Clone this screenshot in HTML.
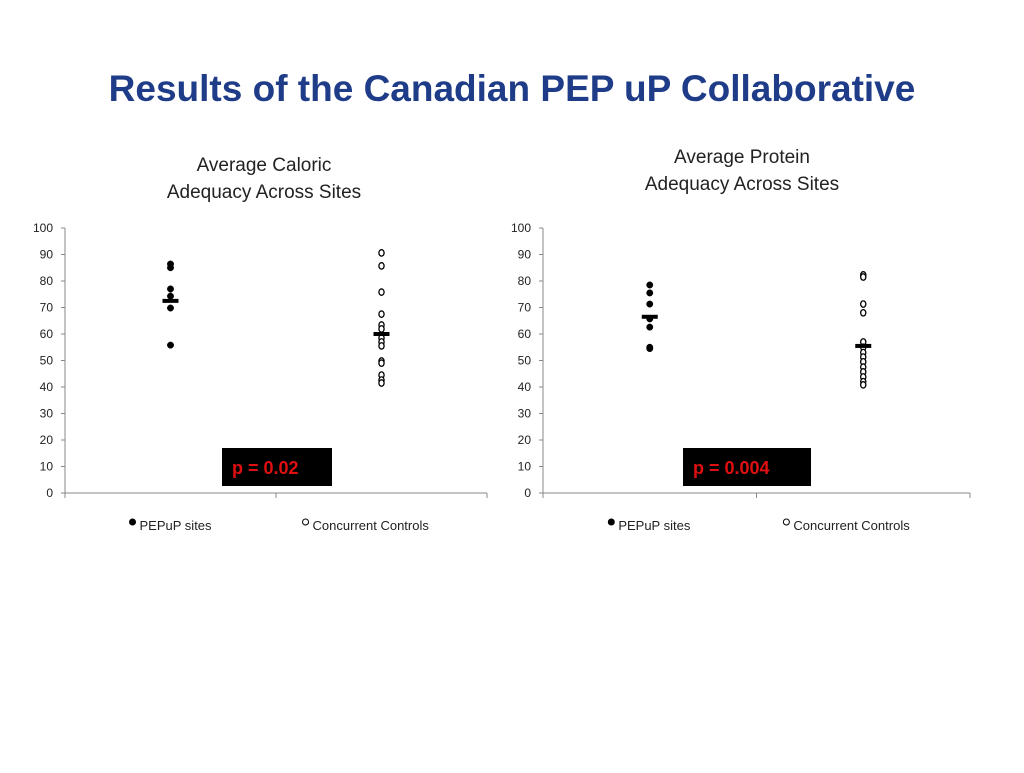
<!DOCTYPE html>
<html><head><meta charset="utf-8"><style>
body{margin:0;width:1024px;height:768px;background:#fff;font-family:"Liberation Sans",sans-serif;overflow:hidden}
</style></head><body>
<svg width="1024" height="768" font-family="Liberation Sans, sans-serif">
<text x="512" y="101" text-anchor="middle" font-size="37" font-weight="bold" fill="#1F3C88">Results of the Canadian PEP uP Collaborative</text>
<g id="c1"></g>
<g id="c2"></g>
</svg>
<script>
const categories=["PEPuP sites","Concurrent Controls"];
const yTicks=[0,10,20,30,40,50,60,70,80,90,100];
const calPep=[86.4,85,77,74.3,69.8,55.8];
const calCtl=[90.6,85.7,75.8,67.5,63.4,61.9,58.5,57,55.5,49.8,49,44.5,42.6,41.5];
const calMeans=[72.5,60];
const proPep=[78.5,75.5,71.3,65.7,62.6,55,54.5];
const proCtl=[82.3,81.5,71.3,68,57,55,53,51.3,49.5,47.5,45.7,43.8,42,40.8];
const proMeans=[66.5,55.5];
const titles=[["Average Caloric","Adequacy Across Sites"],["Average Protein","Adequacy Across Sites"]];
const pvals=["p = 0.02","p = 0.004"];
const NS="http://www.w3.org/2000/svg";
function mk(p,t,a,txt){const e=document.createElementNS(NS,t);for(const k in a)e.setAttribute(k,a[k]);if(txt!==undefined)e.textContent=txt;p.appendChild(e);return e;}
function draw(g,x0,x1,series,means,title,titleX,titleY,pv,boxX,boxW){
  const y0=493,y100=228;
  const ys=v=>y0-(v/100)*(y0-y100);
  const xs=i=>x0+(x1-x0)*(i+0.5)/categories.length;
  title.forEach((l,i)=>{const t=mk(g,"text",{x:titleX,y:titleY+i*27,"text-anchor":"middle","font-size":"19",fill:"#222"},l);
    
    });
  const ax=mk(g,"line",{x1:x0,y1:y100,x2:x0,y2:y0,stroke:"#888"});
  
  
  const bx=mk(g,"line",{x1:x0,y1:y0,x2:x1,y2:y0,stroke:"#888"});
  
  
  yTicks.forEach(v=>{mk(g,"line",{x1:x0-4,y1:ys(v),x2:x0,y2:ys(v),stroke:"#888"});
    const t=mk(g,"text",{x:x0-12,y:ys(v)+4,"text-anchor":"end","font-size":"12",fill:"#222"},v);
    
    });
  [0,1,2].forEach(i=>mk(g,"line",{x1:x0+(x1-x0)*i/2,y1:y0,x2:x0+(x1-x0)*i/2,y2:y0+5,stroke:"#888"}));
  series.forEach((s,ci)=>{s.forEach(v=>{const c=mk(g,"ellipse",{cx:xs(ci),cy:ys(v),rx:ci?2.6:3.2,ry:3.2,fill:ci?"#fff":"#000",stroke:"#000","stroke-width":ci?1.3:0.5});
    
    });});
  means.forEach((m,ci)=>{const r=mk(g,"rect",{x:xs(ci)-8,y:ys(m)-2,width:16,height:4,fill:"#000"});
    
    });
  const b=mk(g,"rect",{x:boxX,y:448,width:boxW,height:38,fill:"#000"});
  
  
  const pt=mk(g,"text",{x:boxX+10,y:474,"font-size":"18","font-weight":"bold",fill:"#e01010"},pv);
  
  
  categories.forEach((c,ci)=>{const lx=ci?x0+(x1-x0)*0.57:x0+(x1-x0)*0.16;
    mk(g,"circle",{cx:lx,cy:522,r:3,fill:ci?"#fff":"#000",stroke:"#000"});
    const t=mk(g,"text",{x:lx+7,y:530,"font-size":"13",fill:"#222"},c);
    
    });
}
draw(document.getElementById("c1"),65,487,[calPep,calCtl],calMeans,titles[0],264,171,pvals[0],222,110);
draw(document.getElementById("c2"),543,970,[proPep,proCtl],proMeans,titles[1],742,163,pvals[1],683,128);
</script>
</body></html>
